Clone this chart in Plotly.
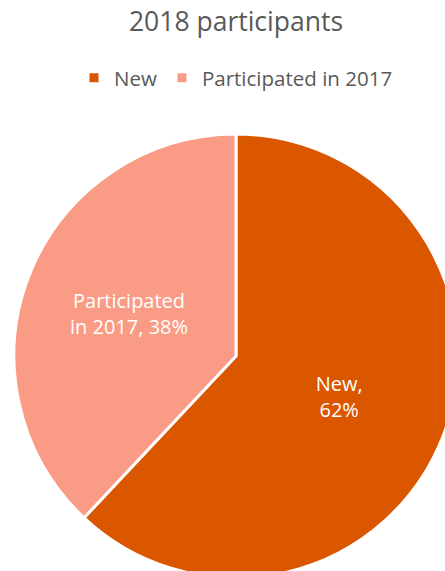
import plotly.graph_objects as go

categories = ["New", "Participated in 2017"]
slice_labels = ["New,<br>", "Participated<br>in 2017, "]
shares = [62, 38]
colors = ["#DA5700", "#FA9C85"]

W, H = 460, 580
FONT = "Open Sans"

fig = go.Figure(
    go.Pie(
        labels=categories,
        values=shares,
        text=slice_labels,
        texttemplate="%{text}%{value}%",
        textinfo="text",
        textposition="inside",
        insidetextorientation="horizontal",
        textfont=dict(family=FONT, size=20, color="white"),
        marker=dict(colors=colors, line=dict(color="white", width=3)),
        sort=False,
        direction="clockwise",
        rotation=0,
        hoverinfo="label+percent",
    )
)

fig.update_layout(
    width=W,
    height=H,
    margin=dict(l=14, r=2, t=134, b=2),
    paper_bgcolor="white",
    plot_bgcolor="white",
    font=dict(family=FONT, color="#595959"),
    title=dict(
        text="2018 participants",
        x=236 / W,
        xanchor="center",
        y=1 - 22 / H,
        yanchor="middle",
        yref="container",
        font=dict(family=FONT, size=26.5, color="#595959"),
    ),
    legend=dict(
        orientation="h",
        x=230 / W,
        xanchor="center",
        y=1 - 78 / H,
        yanchor="middle",
        yref="container",
        font=dict(family=FONT, size=20.5, color="#595959"),
        itemwidth=30,
    ),
    showlegend=True,
)

fig.write_html(
    "out.html",
    post_script="document.documentElement.style.overflow='hidden';document.body.style.overflow='hidden';document.body.style.margin='0';",
)
